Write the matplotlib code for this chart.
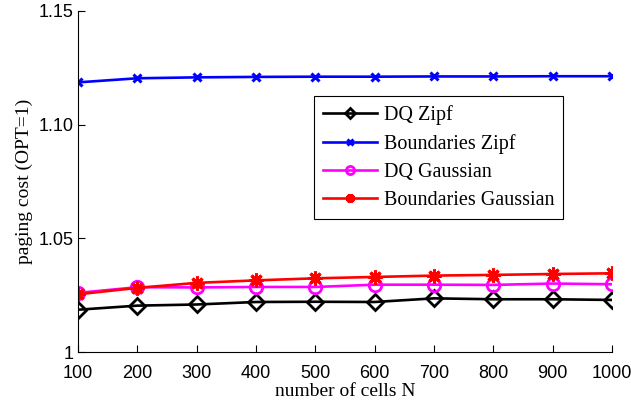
import numpy as np
import matplotlib.pyplot as plt

cells = [100, 200, 300, 400, 500, 600, 700, 800, 900, 1000]
dq_zipf = [1.0187, 1.0205, 1.0210, 1.0221, 1.0222, 1.0221, 1.0237, 1.0233, 1.0233, 1.0230]
bnd_zipf = [1.1186, 1.1204, 1.1208, 1.1210, 1.1211, 1.1211, 1.1212, 1.1212, 1.1213, 1.1213]
dq_gauss = [1.0261, 1.0286, 1.0285, 1.0287, 1.0287, 1.0297, 1.0297, 1.0296, 1.0302, 1.0299]
bnd_gauss = [1.0255, 1.0283, 1.0305, 1.0316, 1.0325, 1.0331, 1.0337, 1.0340, 1.0344, 1.0347]

fig = plt.figure(figsize=(6.31, 4.04), dpi=100)
ax = fig.add_axes([0.1236, 0.128, 0.8464, 0.845])

serif = 'Liberation Serif'
sans = 'Liberation Sans'
lw = 1.9

ax.plot(cells, dq_zipf, color='black', marker='D', markersize=8, markerfacecolor='none',
        markeredgewidth=2, linewidth=lw, label='DQ Zipf')
ax.plot(cells, bnd_zipf, color='blue', marker='x', markersize=6, markeredgewidth=2.2,
        linewidth=lw, label='Boundaries Zipf')
ax.plot(cells, dq_gauss, color='magenta', marker='o', markersize=9, markerfacecolor='none',
        markeredgewidth=2, linewidth=lw, label='DQ Gaussian')
ax.plot(cells, bnd_gauss, color='red', marker=(8, 2, 0), markersize=10, markeredgewidth=2.2,
        linewidth=lw, label='Boundaries Gaussian')

ax.set_xlim(100, 1000)
ax.set_ylim(1.0, 1.15)
ax.set_xticks(cells)
ax.set_yticks([1.0, 1.05, 1.10, 1.15])
ax.set_yticklabels(['1', '1.05', '1.10', '1.15'])
ax.tick_params(direction='in', length=5, labelsize=13, width=0.8)
ax.tick_params(axis='x', pad=9)
for lab in ax.get_xticklabels() + ax.get_yticklabels():
    lab.set_family(sans)
ax.spines['top'].set_visible(False)
ax.spines['right'].set_visible(False)

ax.set_xlabel('number of cells N', fontsize=14, family=serif, labelpad=1)
ax.set_ylabel('paging cost (OPT=1)', fontsize=14, family=serif, labelpad=4)

leg = ax.legend(loc='upper left', bbox_to_anchor=(0.442, 0.751), prop={'family': serif, 'size': 14.5},
                fancybox=False, edgecolor='black', framealpha=1, borderpad=0.45,
                handlelength=2.7, labelspacing=0.45, handletextpad=0.3, markerscale=0.65,
                borderaxespad=0)
leg.get_frame().set_linewidth(0.8)

plt.savefig('out.png', dpi=100)
